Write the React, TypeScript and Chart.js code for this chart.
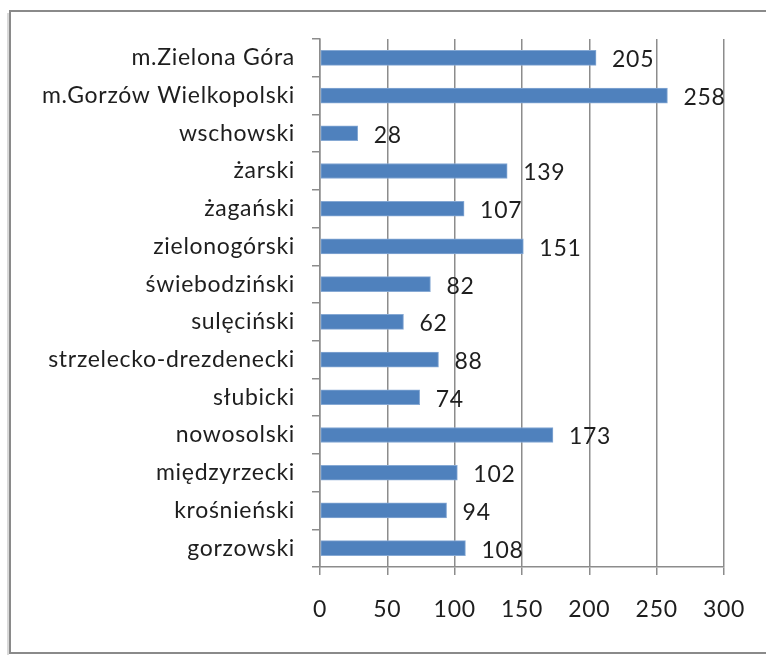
import React, { useEffect, useRef } from "react";
import { Chart, registerables } from "chart.js";

Chart.register(...registerables);

const categories = [
  "m.Zielona Góra",
  "m.Gorzów Wielkopolski",
  "wschowski",
  "żarski",
  "żagański",
  "zielonogórski",
  "świebodziński",
  "sulęciński",
  "strzelecko-drezdenecki",
  "słubicki",
  "nowosolski",
  "międzyrzecki",
  "krośnieński",
  "gorzowski",
];
const values = [205, 258, 28, 139, 107, 151, 82, 62, 88, 74, 173, 102, 94, 108];
const xMin = 0;
const xMax = 300;
const xStep = 50;

const FONT = "Lato, 'Open Sans', sans-serif";
const FONT_SIZE = 23;
const SPACING = "0.7px";
const GRID = "#8c8c8c";
const TEXT = "#1e1e1e";

const framePlugin = {
  id: "frame",
  beforeDraw(chart: any) {
    const ctx = chart.ctx;
    ctx.save();
    ctx.fillStyle = "#ffffff";
    ctx.fillRect(0, 0, chart.width, chart.height);
    ctx.strokeStyle = "#d9d9d9";
    ctx.lineWidth = 2;
    ctx.beginPath();
    ctx.moveTo(8, 13);
    ctx.lineTo(8, 655);
    ctx.stroke();
    ctx.strokeStyle = "#8a8a8a";
    ctx.lineWidth = 2;
    ctx.strokeRect(10, 11, 780, 642);
    ctx.restore();
    (ctx as any).letterSpacing = SPACING;
  },
};

const valueLabelPlugin = {
  id: "valueLabels",
  afterDatasetsDraw(chart: any) {
    const ctx = chart.ctx;
    const meta = chart.getDatasetMeta(0);
    ctx.save();
    (ctx as any).letterSpacing = SPACING;
    ctx.font = `${FONT_SIZE}px ${FONT}`;
    ctx.fillStyle = TEXT;
    ctx.textAlign = "left";
    ctx.textBaseline = "middle";
    meta.data.forEach((bar: any, i: number) => {
      ctx.fillText(String(values[i]), bar.x + 16, bar.y + 2);
    });
    ctx.restore();
  },
};

export default function App() {
  const ref = useRef<HTMLCanvasElement>(null);

  useEffect(() => {
    if (!ref.current) return;
    const chart = new Chart(ref.current, {
      type: "bar",
      data: {
        labels: categories,
        datasets: [
          {
            data: values,
            backgroundColor: "#4f81bd",
            borderColor: "#86a9d4",
            borderWidth: 1,
            borderSkipped: false,
            barThickness: 15,
          },
        ],
      },
      options: {
        indexAxis: "y",
        animation: false,
        responsive: false,
        devicePixelRatio: 1,
        layout: { padding: { top: 39, right: 42, left: 0, bottom: 0 } },
        plugins: {
          legend: { display: false },
          tooltip: { enabled: false },
        },
        scales: {
          x: {
            min: xMin,
            max: xMax,
            ticks: {
              stepSize: xStep,
              color: TEXT,
              font: { family: FONT, size: FONT_SIZE },
              padding: 21,
            },
            grid: {
              color: GRID,
              lineWidth: 1.5,
              tickLength: 8,
              drawTicks: true,
            },
            border: { color: GRID, width: 1.5 },
            afterFit(scale: any) {
              scale.height = 88;
            },
          },
          y: {
            ticks: {
              color: TEXT,
              font: { family: FONT, size: FONT_SIZE },
              padding: 17,
              autoSkip: false,
            },
            grid: {
              color: GRID,
              lineWidth: 1.5,
              drawOnChartArea: false,
              drawTicks: true,
              tickLength: 8,
              offset: true,
            },
            border: { color: GRID, width: 1.5 },
            afterFit(scale: any) {
              scale.width = 320;
            },
          },
        },
      },
      plugins: [framePlugin, valueLabelPlugin],
    });
    return () => chart.destroy();
  }, []);

  return (
    <canvas
      ref={ref}
      width={766}
      height={655}
      style={{ position: "absolute", left: 0, top: 0, width: 766, height: 655, display: "block" }}
    />
  );
}
